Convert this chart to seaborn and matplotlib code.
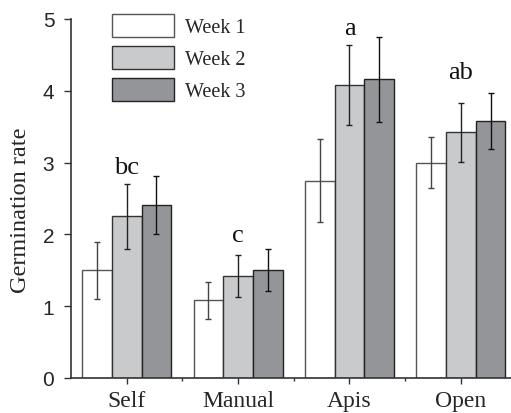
import numpy as np
import pandas as pd
import matplotlib
matplotlib.use("Agg")
import matplotlib.pyplot as plt
import seaborn as sns
from matplotlib.patches import Patch
from matplotlib.ticker import FixedLocator
from matplotlib.container import BarContainer

sites = ["Self", "Manual", "Apis", "Open"]
weeks = ["Week 1", "Week 2", "Week 3"]
week1 = [1.50, 1.08, 2.75, 3.00]
week2 = [2.25, 1.42, 4.08, 3.42]
week3 = [2.41, 1.50, 4.16, 3.58]
err1 = [0.40, 0.26, 0.58, 0.35]
err2 = [0.45, 0.29, 0.56, 0.41]
err3 = [0.40, 0.29, 0.59, 0.39]
letters = ["bc", "c", "a", "ab"]
letter_y = [2.86, 1.91, 4.79, 4.18]

colors = ["#ffffff", "#c9cacc", "#939598"]
edges = ["#555555", "#333333", "#222222"]
ecolors = ["#444444", "#222222", "#111111"]

rows = []
for wk, vals in zip(weeks, [week1, week2, week3]):
    for s, v in zip(sites, vals):
        rows.append({"site": s, "week": wk, "rate": v})
df = pd.DataFrame(rows)

sns.set_style("ticks")
fig = plt.figure(figsize=(5.11, 4.14), dpi=100)
ax = fig.add_axes([71/511, 1-379/414, 1-71/511, (379-20)/414])

sns.barplot(data=df, x="site", y="rate", hue="week", order=sites,
            hue_order=weeks, palette=colors, width=0.8, errorbar=None,
            legend=False, ax=ax, saturation=1, linewidth=1.0)

errs = [err1, err2, err3]
bar_conts = [c for c in ax.containers if isinstance(c, BarContainer)]
for i, cont in enumerate(bar_conts):
    for j, bar in enumerate(cont.patches):
        bar.set_edgecolor(edges[i])
        bar.set_linewidth(1.0)
        cx = bar.get_x() + bar.get_width() / 2
        ax.errorbar(cx, bar.get_height(), yerr=errs[i][j], fmt="none",
                    ecolor=ecolors[i], elinewidth=1.0, capsize=2.3,
                    capthick=1.0, zorder=5)

for j, (lt, ly) in enumerate(zip(letters, letter_y)):
    ax.text(j, ly, lt, ha="center", va="baseline", fontsize=19,
            family="Liberation Serif", color="#111111")

ax.set_xlim(-0.5, 3.45)
ax.set_ylim(0, 5)
ax.set_yticks([0, 1, 2, 3, 4, 5])
ax.set_yticklabels(["0", "1", "2", "3", "4", "5"], family="Liberation Sans",
                   fontsize=15)
ax.set_xticks(range(4))
ax.set_xticklabels(sites, family="Liberation Serif", fontsize=17)
ax.xaxis.set_minor_locator(FixedLocator([0.5, 1.5, 2.5]))
ax.tick_params(axis="x", which="major", length=4, width=1, color="#333333", pad=5)
ax.tick_params(axis="x", which="minor", length=2, width=1, color="#333333")
ax.tick_params(axis="y", length=5, width=1, color="#333333", pad=7)
ax.set_xlabel("")
ax.set_ylabel("Germination rate", family="Liberation Serif", fontsize=17.5)
ax.yaxis.set_label_coords(-0.091, 0.469)
for side in ["top", "right"]:
    ax.spines[side].set_visible(False)
for side in ["left", "bottom"]:
    ax.spines[side].set_color("#333333")
    ax.spines[side].set_linewidth(1.2)

handles = [Patch(facecolor=c, edgecolor=e, linewidth=1.0, label=w)
           for c, e, w in zip(colors, edges, weeks)]
leg = fig.legend(handles=handles, loc="upper left",
                 bbox_to_anchor=(112/511, 1-15/414), frameon=False,
                 prop={"family": "Liberation Serif", "size": 14.5},
                 handlelength=3.08, handleheight=1.35, labelspacing=0.45,
                 handletextpad=0.55, borderpad=0, borderaxespad=0)

fig.savefig("out.png", dpi=100)
